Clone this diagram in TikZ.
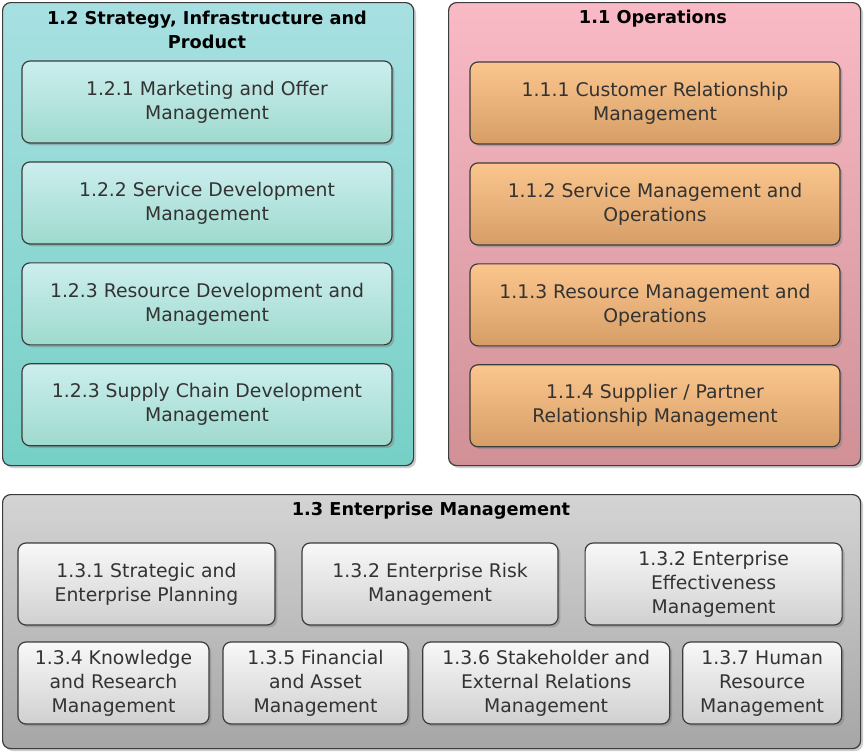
\documentclass[tikz,border=0pt]{standalone}
\usepackage{fontspec}
\setmainfont{DejaVu Sans}
\usepackage{tikz}
\usetikzlibrary{positioning,shadows}
\definecolor{sipT}{RGB}{168,224,226}
\definecolor{sipB}{RGB}{118,208,198}
\definecolor{opsT}{RGB}{249,186,198}
\definecolor{opsB}{RGB}{208,144,150}
\definecolor{emT}{RGB}{212,212,212}
\definecolor{emB}{RGB}{166,166,166}
\definecolor{tlT}{RGB}{204,238,238}
\definecolor{tlB}{RGB}{158,218,206}
\definecolor{orT}{RGB}{251,198,142}
\definecolor{orB}{RGB}{214,158,102}
\definecolor{gyT}{RGB}{248,248,248}
\definecolor{gyB}{RGB}{208,208,208}
\definecolor{edge}{RGB}{60,60,60}
\tikzset{
  grp/.style={draw=edge, line width=0.9pt, rounded corners=6pt, anchor=north west,
    drop shadow={shadow xshift=1.8pt, shadow yshift=-1.8pt, opacity=.4}},
  ttl/.style={font=\fontsize{13.3}{18}\selectfont\bfseries, align=center, text=black},
  blk/.style={draw=edge, line width=0.9pt, rounded corners=6pt, align=center,
    font=\fontsize{14.1}{18}\selectfont, text=black!80, minimum height=61.5pt,
    drop shadow={shadow xshift=1.8pt, shadow yshift=-1.8pt, opacity=.45}},
  tl/.style={blk, top color=tlT, bottom color=tlB, minimum width=277.5pt},
  or/.style={blk, top color=orT, bottom color=orB, minimum width=277.5pt},
  gy/.style={blk, top color=gyT, bottom color=gyB}
}

\begin{document}
\begin{tikzpicture}[x=0.75pt, y=-0.75pt, node distance=13.3pt and 19.4pt]
  \useasboundingbox (0,0) rectangle (865,754);
  % containers
  \node[grp, top color=sipT, bottom color=sipB, minimum width=308.25pt, minimum height=347.25pt] (sip) at (2,2) {};
  \node[grp, top color=opsT, bottom color=opsB, minimum width=309pt, minimum height=347.25pt] (ops) at (448,2) {};
  \node[grp, top color=emT, bottom color=emB, minimum width=643.5pt, minimum height=190.5pt] (em) at (2,494) {};
  \node[ttl] (sipt) at (207,30) {1.2 Strategy, Infrastructure and\\Product};
  \node[ttl] (opst) at (653,19) {1.1 Operations};
  \node[ttl] (emt) at (431,511) {1.3 Enterprise Management};
  % 1.2
  \node[tl] (s1) at (207,102) {1.2.1 Marketing and Offer\\Management};
  \node[tl, below=of s1] (s2) {1.2.2 Service Development\\Management};
  \node[tl, below=of s2] (s3) {1.2.3 Resource Development and\\Management};
  \node[tl, below=of s3] (s4) {1.2.3 Supply Chain Development\\Management};
  % 1.1
  \node[or] (o1) at (655,103) {1.1.1 Customer Relationship\\Management};
  \node[or, below=of o1] (o2) {1.1.2 Service Management and\\Operations};
  \node[or, below=of o2] (o3) {1.1.3 Resource Management and\\Operations};
  \node[or, below=of o3] (o4) {1.1.4 Supplier / Partner\\Relationship Management};
  % 1.3
  \node[gy, minimum width=192.75pt] (e1) at (146.5,584) {1.3.1 Strategic and\\Enterprise Planning};
  \node[gy, minimum width=192pt, right=of e1] (e2) {1.3.2 Enterprise Risk\\Management};
  \node[gy, minimum width=192.75pt, right=of e2] (e3) {1.3.2 Enterprise\\Effectiveness\\Management};
  \node[gy, minimum width=143.25pt] (e4) at (113.5,683) {1.3.4 Knowledge\\and Research\\Management};
  \node[gy, minimum width=138.75pt, right=9.6pt of e4] (e5) {1.3.5 Financial\\and Asset\\Management};
  \node[gy, minimum width=185.25pt, right=10.1pt of e5] (e6) {1.3.6 Stakeholder and\\External Relations\\Management};
  \node[gy, minimum width=119.25pt, right=8.85pt of e6] (e7) {1.3.7 Human\\Resource\\Management};
\end{tikzpicture}
\end{document}
